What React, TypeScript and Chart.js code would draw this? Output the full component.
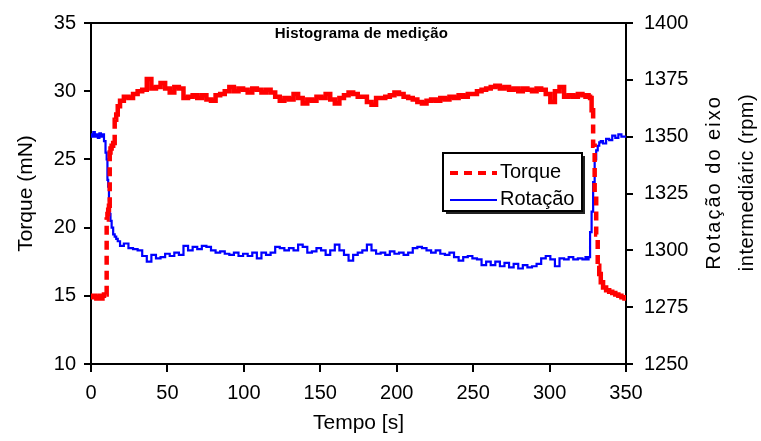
import React, { useEffect, useRef } from "react";
import { Chart, registerables } from "chart.js";

Chart.register(...registerables);

const FONT = "'Liberation Sans', Arial, Helvetica, sans-serif";

const chartTitle = "Histograma de medição";
const xTitle = "Tempo [s]";
const yTitle = "Torque (mN)";
const y1TitleLines = ["Rotação do eixo", "intermediáric (rpm)"];
const seriesNames = ["Torque", "Rotação"];

// time [s]
const tempo = [
  0, 1, 2, 3, 4, 5, 6, 7, 8, 9, 10, 10.5, 11, 11.5, 12, 12.5, 13, 14, 15, 16, 17, 18,
  20, 23, 26, 29, 32, 35, 38, 41, 44, 47,
  50, 53, 56, 59, 62, 65, 68, 71, 74, 77,
  80, 83, 86, 89, 92, 95, 98, 101, 104, 107,
  110, 113, 116, 119, 122, 125, 128, 131, 134, 137,
  140, 143, 146, 149, 152, 155, 158, 161, 164, 167,
  170, 173, 176, 179, 182, 185, 188, 191, 194, 197,
  200, 203, 206, 209, 212, 215, 218, 221, 224, 227,
  230, 233, 236, 239, 242, 245, 248, 251, 254, 257,
  260, 263, 266, 269, 272, 275, 278, 281, 284, 287,
  290, 293, 296, 299, 302, 305, 308, 311, 314, 317,
  320, 323,
  324, 325, 326, 327, 328, 329, 330, 331, 332, 333, 334, 336, 338, 340, 342, 344, 346, 348, 350,
];

// Torque [mN]
const torque = [
  15.0, 14.9, 15.0, 14.9, 14.8, 14.9, 15.0, 14.8, 15.0, 15.1, 15.1, 20.6, 21.0, 21.3, 21.6, 25.5, 25.8, 26.0, 26.2, 27.9, 28.3, 28.9,
  29.3, 29.6, 29.5, 29.8, 30.0, 30.1, 30.9, 30.2, 30.3, 30.6,
  30.2, 29.9, 30.3, 30.2, 29.5, 29.6, 29.7, 29.5, 29.7, 29.4,
  29.3, 29.7, 29.8, 30.0, 30.3, 30.0, 30.2, 30.1, 29.9, 30.2,
  30.1, 29.9, 30.1, 29.9, 29.6, 29.3, 29.5, 29.4, 29.8, 29.5,
  29.1, 29.4, 29.3, 29.6, 29.5, 29.8, 29.4, 29.1, 29.5, 29.7,
  29.9, 29.8, 29.6, 29.6, 29.2, 29.0, 29.5, 29.5, 29.6, 29.7,
  29.9, 29.8, 29.6, 29.5, 29.4, 29.2, 29.1, 29.3, 29.4, 29.3,
  29.5, 29.4, 29.6, 29.5, 29.7, 29.6, 29.8, 29.8, 30.0, 30.1,
  30.2, 30.3, 30.4, 30.2, 30.3, 30.1, 30.2, 30.0, 30.2, 30.1,
  30.0, 30.2, 30.1, 29.8, 29.2, 30.0, 30.3, 29.6, 29.7, 29.6,
  29.8, 29.7,
  29.6, 29.7, 29.6, 29.5, 28.6, 26.0, 22.5, 19.5, 17.2, 16.6, 16.0, 15.6, 15.4, 15.3, 15.2, 15.1, 15.0, 14.9, 14.8,
];

// Rotação [rpm]
const rotacao = [
  1351, 1350, 1352, 1350, 1351, 1349.5, 1351.5, 1350, 1351, 1348, 1343, 1340, 1331, 1328, 1322, 1316, 1313, 1310, 1307, 1306, 1305, 1304,
  1302, 1303, 1301, 1300.5, 1300, 1297.5, 1295, 1298, 1296.5, 1297,
  1298.5, 1297.5, 1299, 1298, 1302, 1300, 1301.5, 1300.5, 1302, 1301.5,
  1300, 1299, 1299.5, 1298.5, 1298, 1299, 1297.5, 1298.5, 1297.5, 1299,
  1296.5, 1299, 1298, 1299, 1301.5, 1301, 1300, 1301, 1300, 1302.5,
  1301.5, 1299, 1299.5, 1301, 1300, 1298, 1300, 1302.5, 1300, 1298,
  1295.5, 1298, 1299, 1300, 1302.5, 1300, 1298.5, 1299, 1298, 1299.5,
  1298.5, 1299, 1298, 1299, 1301, 1301.5, 1301, 1300, 1299, 1300,
  1298.5, 1298, 1299, 1297, 1295.5, 1297, 1297.5, 1296.5, 1296, 1293.5,
  1295, 1293.5, 1295, 1293, 1294.5, 1292.5, 1294, 1292, 1293.5, 1292.5,
  1293, 1294, 1296.5, 1297.5, 1296, 1293, 1296.5, 1296, 1297, 1296,
  1296.5, 1296,
  1297, 1296, 1297, 1308, 1317, 1330, 1340, 1344, 1346, 1347.5, 1348, 1347, 1349, 1348.5, 1350.5, 1349.5, 1351, 1350, 1350,
];

const decorPlugin = {
  id: "decor",
  afterDraw(chart: any) {
    const { ctx, chartArea: ca } = chart;
    ctx.save();
    // top frame line
    ctx.strokeStyle = "#000";
    ctx.lineWidth = 2;
    ctx.beginPath();
    ctx.moveTo(ca.left - 1, ca.top);
    ctx.lineTo(ca.right + 1, ca.top);
    ctx.stroke();

    // inner title
    ctx.save();
    ctx.fillStyle = "#000";
    ctx.font = `bold 15px ${FONT}`;
    (ctx as any).letterSpacing = "0.2px";
    ctx.textAlign = "center";
    ctx.textBaseline = "middle";
    ctx.fillText(chartTitle, (ca.left + ca.right) / 2 + 3, ca.top + 11);
    ctx.restore();

    // right axis title (reads bottom to top)
    ctx.fillStyle = "#000";
    ctx.font = `20px ${FONT}`;
    ctx.textAlign = "center";
    ctx.textBaseline = "middle";
    const cy = (ca.top + ca.bottom) / 2 - 11;
    const xs = [ca.right + 88, ca.right + 121];
    const spacing = ["2px", "0.5px"];
    y1TitleLines.forEach((line, i) => {
      ctx.save();
      (ctx as any).letterSpacing = spacing[i];
      ctx.translate(xs[i], cy);
      ctx.rotate(-Math.PI / 2);
      ctx.fillText(line, 0, 0);
      ctx.restore();
    });

    // legend
    const bx = ca.right - 183;
    const by = ca.top + 130;
    const bw = 139;
    const bh = 58;
    ctx.fillStyle = "#222";
    ctx.fillRect(bx + 3, by + 3, bw, bh);
    ctx.fillStyle = "#fff";
    ctx.fillRect(bx, by, bw, bh);
    ctx.strokeStyle = "#000";
    ctx.lineWidth = 2;
    ctx.strokeRect(bx, by, bw, bh);

    const ds = chart.data.datasets;
    const rows = [by + 20, by + 47];
    ds.forEach((d: any, i: number) => {
      ctx.save();
      ctx.strokeStyle = d.borderColor;
      ctx.lineWidth = i === 0 ? 4 : 2;
      ctx.setLineDash(i === 0 ? [8, 6] : []);
      ctx.beginPath();
      ctx.moveTo(bx + 7, rows[i]);
      ctx.lineTo(bx + 54, rows[i]);
      ctx.stroke();
      ctx.restore();
      ctx.fillStyle = "#000";
      ctx.font = `20px ${FONT}`;
      ctx.textAlign = "left";
      ctx.textBaseline = "middle";
      ctx.fillText(d.label, bx + 57, rows[i] - 1);
    });
    ctx.restore();
  },
};

export default function App() {
  const canvasRef = useRef<HTMLCanvasElement | null>(null);

  useEffect(() => {
    const canvas = canvasRef.current;
    if (!canvas) return;
    const tickFont = { family: FONT, size: 20 };
    const titleFont = { family: FONT, size: 21 };
    const axisCommon = {
      grid: { drawOnChartArea: false, drawTicks: true, color: "#000", lineWidth: 2 },
      border: { display: true, color: "#000", width: 2 },
    };
    const chart = new Chart(canvas, {
      type: "line",
      data: {
        datasets: [
          {
            label: seriesNames[0],
            data: tempo.map((t, i) => ({ x: t, y: torque[i] })),
            yAxisID: "y",
            borderColor: "#ff0000",
            backgroundColor: "#ff0000",
            borderWidth: 4.5,
            pointRadius: 0,
            fill: false,
            stepped: "middle",
            segment: {
              borderDash: (c: any) => (Math.abs(c.p1.y - c.p0.y) > 14 ? [9, 6] : undefined),
            },
          },
          {
            label: seriesNames[1],
            data: tempo.map((t, i) => ({ x: t, y: rotacao[i] })),
            yAxisID: "y1",
            borderColor: "#0000ff",
            backgroundColor: "#0000ff",
            borderWidth: 2.2,
            pointRadius: 0,
            fill: false,
            stepped: "middle",
          },
        ],
      },
      options: {
        responsive: false,
        animation: false,
        maintainAspectRatio: false,
        layout: { padding: { top: 20, right: 0, bottom: 0, left: 0 } },
        plugins: {
          legend: { display: false },
          tooltip: { enabled: false },
          title: { display: false },
        },
        scales: {
          x: {
            type: "linear",
            min: 0,
            max: 350,
            ...axisCommon,
            grid: { ...axisCommon.grid, tickLength: 8 },
            ticks: { stepSize: 50, font: tickFont, color: "#000", padding: 9, maxRotation: 0, callback: (v: any) => String(v) },
            title: { display: true, text: xTitle, font: titleFont, color: "#000", padding: { top: 0, bottom: 5 } },
            afterFit: (s: any) => {
              s.height = 77;
            },
          },
          y: {
            type: "linear",
            position: "left",
            min: 10,
            max: 35,
            ...axisCommon,
            grid: { ...axisCommon.grid, tickLength: 7 },
            ticks: { stepSize: 5, font: tickFont, color: "#000", padding: 8, callback: (v: any) => String(v) },
            title: { display: true, text: yTitle, font: titleFont, color: "#000", padding: { top: 14, bottom: 0 } },
            afterFit: (s: any) => {
              s.width = 91;
            },
          },
          y1: {
            type: "linear",
            position: "right",
            min: 1250,
            max: 1400,
            ...axisCommon,
            grid: { ...axisCommon.grid, tickLength: 7 },
            ticks: { stepSize: 25, font: tickFont, color: "#000", padding: 11, callback: (v: any) => String(v) },
            afterFit: (s: any) => {
              s.width = 135;
            },
          },
        },
      } as any,
      plugins: [decorPlugin],
    });
    return () => chart.destroy();
  }, []);

  return (
    <div style={{ position: "absolute", left: 0, top: 0, width: 761, height: 441, background: "#fff" }}>
      <canvas ref={canvasRef} width={761} height={441} style={{ display: "block", width: 761, height: 441 }} />
    </div>
  );
}
